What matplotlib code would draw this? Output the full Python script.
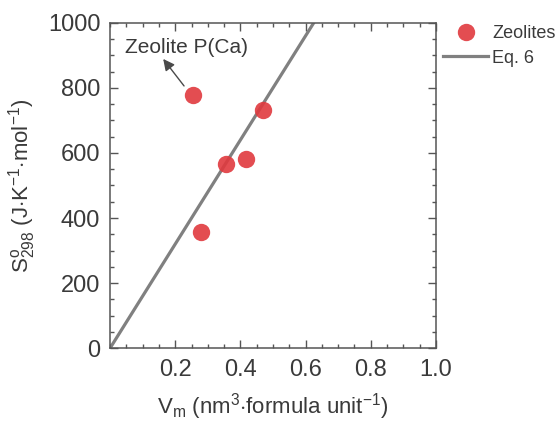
import numpy as np
import matplotlib.pyplot as plt
from matplotlib.ticker import MultipleLocator

plt.rcParams['font.family'] = ['Liberation Sans', 'DejaVu Sans']
plt.rcParams['mathtext.fontset'] = 'custom'
plt.rcParams['mathtext.rm'] = 'Liberation Sans'
plt.rcParams['mathtext.it'] = 'Liberation Sans'

# zeolite data
vm = [0.255, 0.279, 0.356, 0.416, 0.470]
s298 = [778, 358, 565, 580, 733]

# Eq. 6 line
slope = 1600
line_x = np.array([0.0, 1.0])

txt = '#3a3a3a'
axc = '#555555'

fig = plt.figure(figsize=(5.56, 4.23), dpi=100)
ax = fig.add_axes([0.198, 0.177, 0.586, 0.769])

ax.plot(line_x, slope * line_x, color='#808080', lw=2.3, label='Eq. 6', zorder=2)
ax.plot(vm, s298, 'o', color='#e0393e', ms=12.5, alpha=0.9, mec='none',
        label='Zeolites', zorder=3)

ax.annotate('', xy=(0.163, 889), xytext=(0.227, 806),
            arrowprops=dict(arrowstyle='-|>', color='#4a4a4a', lw=1.0,
                            mutation_scale=17, shrinkA=0, shrinkB=0))
ax.text(0.046, 923, 'Zeolite P(Ca)', fontsize=15, color=txt, va='center')

ax.set_xlim(0, 1.0)
ax.set_ylim(0, 1000)
ax.set_xticks([0.2, 0.4, 0.6, 0.8, 1.0])
ax.set_yticks([0, 200, 400, 600, 800, 1000])
ax.xaxis.set_minor_locator(MultipleLocator(0.05))
ax.yaxis.set_minor_locator(MultipleLocator(50))
ax.tick_params(which='both', direction='in', top=True, right=True, color=axc,
               labelcolor=txt, labelsize=17)
ax.tick_params(axis='x', which='major', length=6, width=1, pad=8)
ax.tick_params(axis='y', which='major', length=6, width=1, pad=7)
ax.tick_params(which='minor', length=3, width=1)
for sp in ax.spines.values():
    sp.set_color(axc)
    sp.set_linewidth(1.1)

ax.set_xlabel(r'V$_\mathregular{m}$ (nm$^\mathregular{3}$$\cdot$formula unit$^\mathregular{-1}$)',
              fontsize=16, color=txt, labelpad=7)
ax.set_ylabel(r'S$^\mathregular{o}_\mathregular{298}$ (J$\cdot$K$^\mathregular{-1}$$\cdot$mol$^\mathregular{-1}$)',
              fontsize=16, color=txt, labelpad=7)

handles, labels = ax.get_legend_handles_labels()
leg = fig.legend(handles[::-1], labels[::-1], loc='upper left',
                 bbox_to_anchor=(0.797, 0.94), frameon=False, fontsize=13,
                 borderpad=0, borderaxespad=0, handlelength=2.5,
                 handletextpad=0.2, labelspacing=0.4)
for t in leg.get_texts():
    t.set_color(txt)

fig.savefig('out.png', dpi=100)
